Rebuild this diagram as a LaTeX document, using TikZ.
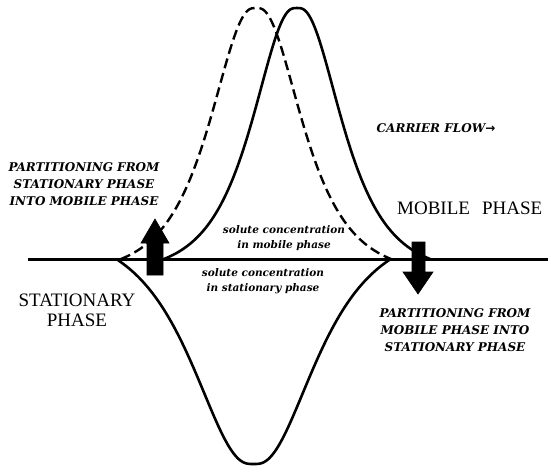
\documentclass[tikz,border=0pt]{standalone}
\usepackage{fontspec}
\setmainfont{Liberation Serif}
\newfontfamily\labfont{DejaVu Serif}
\newfontfamily\symfont{DejaVu Sans}
\begin{document}
\begin{tikzpicture}[x=1pt,y=-1pt,
  declare function={mysech(\u)=2/(exp(\u)+exp(-\u)); fl(\u)=sqrt(\u*\u+0.0144)-0.12; pk(\u,\m)=(mysech(fl(\u))-mysech(fl(\m)))/(1-mysech(fl(\m)));},
  curve/.style={line width=2.6pt, line join=round, line cap=round},
  dashcurve/.style={line width=2.4pt, dash pattern=on 10pt off 5pt},
  baseline line/.style={line width=3pt},
  blockarrow/.style={fill=black, draw=black, line width=0.6pt, line join=miter},
  phase/.style={font=\fontsize{19}{20}\selectfont, inner sep=0pt, align=center},
  bigital/.style={font=\labfont\bfseries\itshape\fontsize{12}{17}\selectfont, align=center, inner sep=0pt},
  smallital/.style={font=\labfont\bfseries\itshape\fontsize{10.5}{15}\selectfont, align=center, inner sep=0pt},
  flowlabel/.style={font=\labfont\bfseries\itshape\fontsize{12}{13}\selectfont, inner sep=0pt}
]
\fill[white] (0,0) rectangle (548,467);
\useasboundingbox (0,0) rectangle (548,467);

% baseline between phases
\draw[baseline line] (28,259) coordinate (bl) -- (548,259) coordinate (br);

% mobile phase peak (solid), earlier position (dashed), stationary phase peak
\draw[curve] plot[domain=-3.75:3.75, samples=181, variable=\t] ({297+35.5*\t},{259-251*pk(\t,3.75)});
\draw[dashcurve] plot[domain=-3.7:3.7, samples=181, variable=\t] ({256+36.5*\t},{259-251*pk(\t,3.7)});
\draw[curve] plot[domain=-2.8:2.8, samples=181, variable=\t] ({253.5+49*\t},{259+205*pk(\t,2.8)});

% block arrows
\fill[blockarrow] (147,275) -- (147,243) -- (141,243) -- (155,219) -- (169,243) -- (163,243) -- (163,275) -- cycle;
\fill[blockarrow] (412,242) -- (412,272) -- (403,272) -- (418,294) -- (433,272) -- (425,272) -- (425,242) -- cycle;

% labels
\node[bigital] (pl) at (84,184) {PARTITIONING FROM\\STATIONARY PHASE\\INTO MOBILE PHASE};
\node[bigital] (pr) at (455,330) {PARTITIONING FROM\\MOBILE PHASE INTO\\STATIONARY PHASE};
\node[phase] (sp) at (77,310) {STATIONARY\\PHASE};
\node[phase, anchor=west] (mp) at (397,208) {MOBILE\hspace{12pt}PHASE};
\node[flowlabel] (cf) at (436,128) {CARRIER FLOW{\symfont →}};
\node[smallital] (sm) at (284,238) {solute concentration\\in mobile phase};
\node[smallital] (ss) at (263,281) {solute concentration\\in stationary phase};
\end{tikzpicture}
\end{document}
